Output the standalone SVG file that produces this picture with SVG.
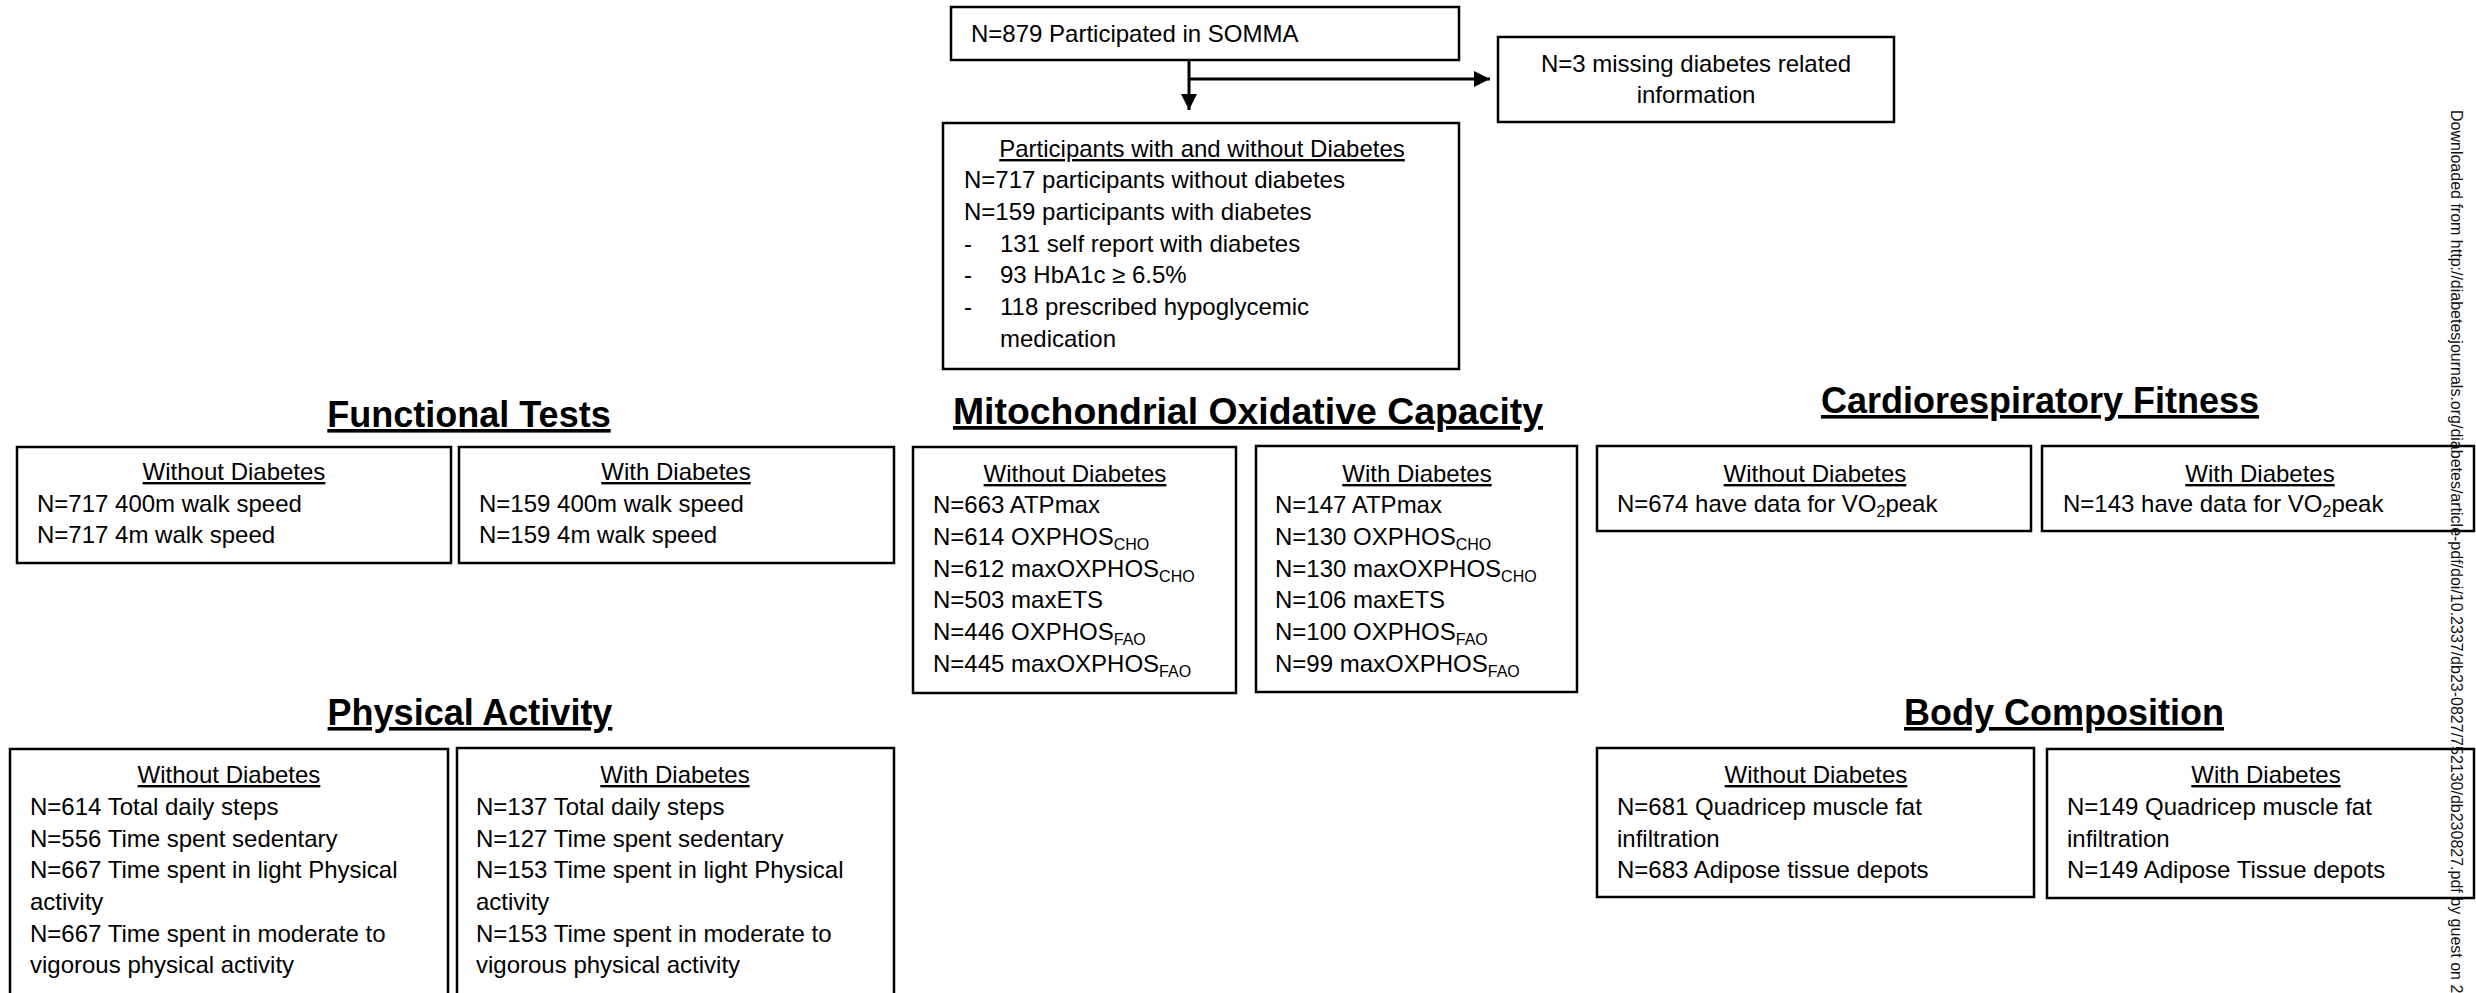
<svg xmlns="http://www.w3.org/2000/svg" width="2476" height="993" viewBox="0 0 2476 993">
<defs>
<style>
.box{fill:#fff;stroke:#000;stroke-width:2.5}
text{font-family:"Liberation Sans",Arial,sans-serif;font-size:24px;fill:#000}
.h{font-weight:bold;font-size:36px;text-decoration:underline;text-anchor:middle}
.st{text-anchor:middle;text-decoration:underline}
.c{text-anchor:middle}
.sub{font-size:16px}
.wm{font-size:16px;fill:#111}
.conn{fill:none;stroke:#000;stroke-width:3}
</style>
<marker id="arr" viewBox="0 0 16 16" refX="16" refY="8" markerWidth="16" markerHeight="16" markerUnits="userSpaceOnUse" orient="auto">
<path d="M0,0 L16,8 L0,16 z" fill="#000"/>
</marker>
</defs>
<rect width="2476" height="993" fill="#fff"/>

<g id="connectors">
<path class="conn" d="M1189,60 V110" marker-end="url(#arr)"/>
<path class="conn" d="M1189,79 H1490" marker-end="url(#arr)"/>
</g>

<g id="somma">
<rect class="box" x="951" y="7" width="508" height="53"/>
<text x="971" y="42">N=879 Participated in SOMMA</text>
</g>

<g id="missing">
<rect class="box" x="1498" y="37" width="396" height="85"/>
<text class="c" x="1696" y="72">N=3 missing diabetes related</text>
<text class="c" x="1696" y="103">information</text>
</g>

<g id="participants">
<rect class="box" x="943" y="123" width="516" height="246"/>
<text class="st" x="1202" y="157">Participants with and without Diabetes</text>
<text x="964" y="188">N=717 participants without diabetes</text>
<text x="964" y="220">N=159 participants with diabetes</text>
<text x="964" y="252">-</text><text x="1000" y="252">131 self report with diabetes</text>
<text x="964" y="283">-</text><text x="1000" y="283">93 HbA1c ≥ 6.5%</text>
<text x="964" y="315">-</text><text x="1000" y="315">118 prescribed hypoglycemic</text>
<text x="1000" y="347">medication</text>
</g>

<g id="headings">
<text class="h" x="469" y="427">Functional Tests</text>
<text class="h" x="1248" y="424" style="font-size:37.4px">Mitochondrial Oxidative Capacity</text>
<text class="h" x="2040" y="413">Cardiorespiratory Fitness</text>
<text class="h" x="470" y="725">Physical Activity</text>
<text class="h" x="2064" y="725">Body Composition</text>
</g>

<g id="ft-without">
<rect class="box" x="17" y="447" width="434" height="116"/>
<text class="st" x="234" y="480">Without Diabetes</text>
<text x="37" y="512">N=717 400m walk speed</text>
<text x="37" y="543">N=717 4m walk speed</text>
</g>
<g id="ft-with">
<rect class="box" x="459" y="447" width="435" height="116"/>
<text class="st" x="676" y="480">With Diabetes</text>
<text x="479" y="512">N=159 400m walk speed</text>
<text x="479" y="543">N=159 4m walk speed</text>
</g>

<g id="mito-without">
<rect class="box" x="913" y="447" width="323" height="246"/>
<text class="st" x="1075" y="482">Without Diabetes</text>
<text x="933" y="513">N=663 ATPmax</text>
<text x="933" y="545">N=614 OXPHOS<tspan class="sub" dy="5">CHO</tspan></text>
<text x="933" y="577">N=612 maxOXPHOS<tspan class="sub" dy="5">CHO</tspan></text>
<text x="933" y="608">N=503 maxETS</text>
<text x="933" y="640">N=446 OXPHOS<tspan class="sub" dy="5">FAO</tspan></text>
<text x="933" y="672">N=445 maxOXPHOS<tspan class="sub" dy="5">FAO</tspan></text>
</g>
<g id="mito-with">
<rect class="box" x="1256" y="446" width="321" height="246"/>
<text class="st" x="1417" y="482">With Diabetes</text>
<text x="1275" y="513">N=147 ATPmax</text>
<text x="1275" y="545">N=130 OXPHOS<tspan class="sub" dy="5">CHO</tspan></text>
<text x="1275" y="577">N=130 maxOXPHOS<tspan class="sub" dy="5">CHO</tspan></text>
<text x="1275" y="608">N=106 maxETS</text>
<text x="1275" y="640">N=100 OXPHOS<tspan class="sub" dy="5">FAO</tspan></text>
<text x="1275" y="672">N=99 maxOXPHOS<tspan class="sub" dy="5">FAO</tspan></text>
</g>

<g id="crf-without">
<rect class="box" x="1597" y="446" width="434" height="85"/>
<text class="st" x="1815" y="482">Without Diabetes</text>
<text x="1617" y="512">N=674 have data for VO<tspan class="sub" dy="5">2</tspan><tspan dy="-5">peak</tspan></text>
</g>
<g id="crf-with">
<rect class="box" x="2042" y="446" width="432" height="85"/>
<text class="st" x="2260" y="482">With Diabetes</text>
<text x="2063" y="512">N=143 have data for VO<tspan class="sub" dy="5">2</tspan><tspan dy="-5">peak</tspan></text>
</g>

<g id="pa-without">
<rect class="box" x="10" y="749" width="438" height="260"/>
<text class="st" x="229" y="783">Without Diabetes</text>
<text x="30" y="815">N=614 Total daily steps</text>
<text x="30" y="847">N=556 Time spent sedentary</text>
<text x="30" y="878">N=667 Time spent in light Physical</text>
<text x="30" y="910">activity</text>
<text x="30" y="942">N=667 Time spent in moderate to</text>
<text x="30" y="973">vigorous physical activity</text>
</g>
<g id="pa-with">
<rect class="box" x="457" y="748" width="437" height="260"/>
<text class="st" x="675" y="783">With Diabetes</text>
<text x="476" y="815">N=137 Total daily steps</text>
<text x="476" y="847">N=127 Time spent sedentary</text>
<text x="476" y="878">N=153 Time spent in light Physical</text>
<text x="476" y="910">activity</text>
<text x="476" y="942">N=153 Time spent in moderate to</text>
<text x="476" y="973">vigorous physical activity</text>
</g>

<g id="bc-without">
<rect class="box" x="1597" y="748" width="437" height="149"/>
<text class="st" x="1816" y="783">Without Diabetes</text>
<text x="1617" y="815">N=681 Quadricep muscle fat</text>
<text x="1617" y="847">infiltration</text>
<text x="1617" y="878">N=683 Adipose tissue depots</text>
</g>
<g id="bc-with">
<rect class="box" x="2047" y="749" width="427" height="149"/>
<text class="st" x="2266" y="783">With Diabetes</text>
<text x="2067" y="815">N=149 Quadricep muscle fat</text>
<text x="2067" y="847">infiltration</text>
<text x="2067" y="878">N=149 Adipose Tissue depots</text>
</g>

<text class="wm" transform="translate(2451,110) rotate(90)">Downloaded from http://diabetesjournals.org/diabetes/article-pdf/doi/10.2337/db23-0827/752130/db230827.pdf by guest on 2</text>
</svg>
